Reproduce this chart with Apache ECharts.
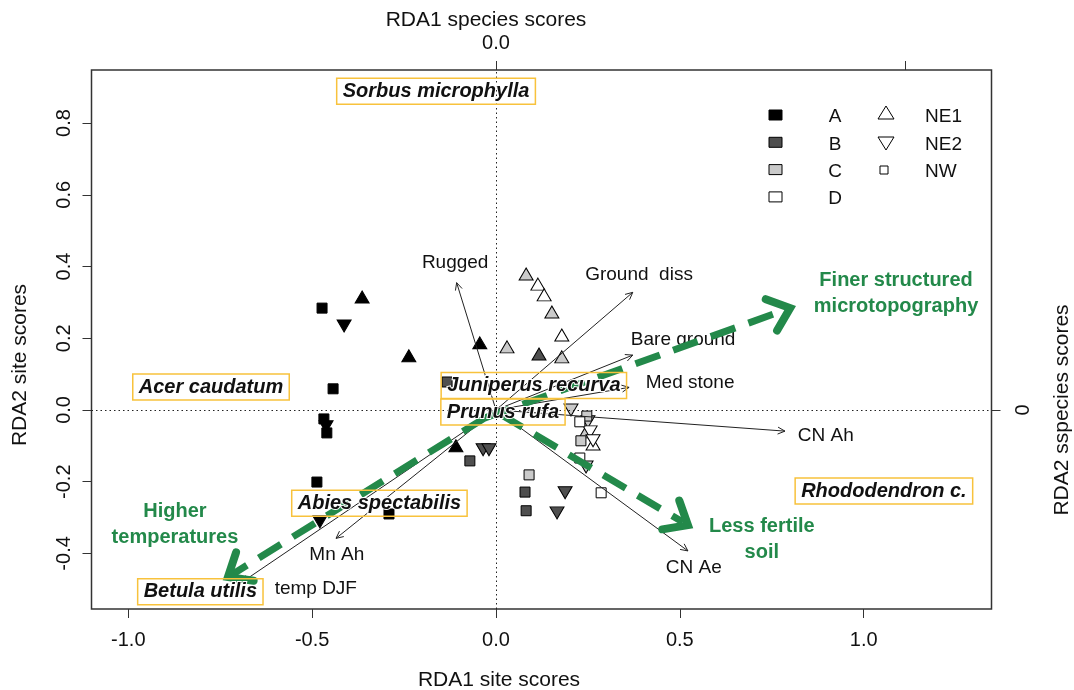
<!DOCTYPE html>
<html>
<head>
<meta charset="UTF-8" />
<title>RDA biplot</title>
<script src="https://cdn.jsdelivr.net/npm/echarts@6/dist/echarts.min.js"></script>
</head>
<body style="margin:0">
<div id="main"></div>
<script>
const width = 1074;
const height = 690;
const main = document.getElementById('main');
main.style.width = `${width}px`;
main.style.height = `${height}px`;

// site scores [RDA1, RDA2], by group (A-D) and aspect (NE1, NE2, NW)
const sitesA_NE1 = [[-0.364, 0.315], [-0.237, 0.151], [-0.044, 0.187], [-0.109, -0.100]];
const sitesA_NE2 = [[-0.413, 0.234], [-0.462, -0.047], [-0.479, -0.312]];
const sitesA_NW = [[-0.473, 0.284], [-0.443, 0.059], [-0.468, -0.025], [-0.460, -0.064], [-0.487, -0.201], [-0.291, -0.290]];
const sitesB_NE1 = [[0.117, 0.156]];
const sitesB_NE2 = [[-0.035, -0.111], [-0.019, -0.111], [0.188, -0.231], [0.166, -0.287]];
const sitesB_NW = [[-0.133, 0.078], [-0.071, -0.142], [0.079, -0.229], [0.082, -0.281]];
const sitesC_NE1 = [[0.082, 0.379], [0.152, 0.273], [0.030, 0.176], [0.179, 0.148], [0.245, -0.061]];
const sitesC_NE2 = [[0.204, 0.000], [0.250, -0.033], [0.245, -0.159]];
const sitesC_NW = [[0.090, -0.181], [0.247, -0.017], [0.231, -0.086]];
const sitesD_NE1 = [[0.114, 0.351], [0.131, 0.321], [0.179, 0.209], [0.264, -0.095]];
const sitesD_NE2 = [[0.256, -0.061], [0.264, -0.086]];
const sitesD_NW = [[0.228, -0.033], [0.228, -0.134], [0.286, -0.231]];

// environmental vectors
const envNames = ['Rugged', 'Ground  diss', 'Bare ground', 'Med stone', 'CN Ah', 'CN Ae', 'Mn Ah', 'temp DJF'];
const envEnds = [[-0.107, 0.355], [0.372, 0.328], [0.372, 0.153], [0.362, 0.063], [0.786, -0.059], [0.522, -0.393], [-0.435, -0.358], [-0.692, -0.481]];
const envLabelPos = [[-0.111, 0.410], [0.389, 0.376], [0.509, 0.195], [0.528, 0.075], [0.897, -0.072], [0.538, -0.440], [-0.433, -0.404], [-0.490, -0.499]];

// species
const speciesNames = ['Sorbus microphylla', 'Acer caudatum', 'Juniperus recurva', 'Prunus rufa', 'Abies spectabilis', 'Betula utilis', 'Rhododendron c.'];
const speciesPos = [[-0.163, 0.889], [-0.775, 0.064], [0.103, 0.068], [0.019, -0.006], [-0.317, -0.260], [-0.804, -0.507], [1.055, -0.226]];

// interpreted gradients
const gradNames = ['Finer structured\nmicrotopography', 'Higher\ntemperatures', 'Less fertile\nsoil'];
const gradArrows = [[-0.030, -0.022, 0.800, 0.284], [-0.030, -0.022, -0.729, -0.466], [0.011, -0.011, 0.522, -0.321]];
const gradLabelPos = [[1.088, 0.325], [-0.873, -0.320], [0.723, -0.360]];

const xTicks = [-1, -0.5, 0, 0.5, 1];
const yTicks = [-0.4, -0.2, 0, 0.2, 0.4, 0.6, 0.8];
const topTicks = [0, 0.5];
const rightTicks = [0];

const legendGroups = ['A', 'B', 'C', 'D'];
const legendAspects = ['NE1', 'NE2', 'NW'];

const font = 'Liberation Sans, Arial, sans-serif';
const fills = { A: '#000000', B: '#4f4f4f', C: '#cacaca', D: '#ffffff' };
const green = '#23894a';

function siteSeries(data, group, aspect) {
  const isSq = aspect === 'NW';
  return {
    type: 'scatter',
    data,
    symbol: isSq ? 'rect' : 'triangle',
    symbolRotate: aspect === 'NE2' ? 180 : 0,
    symbolSize: isSq ? 10 : [14, 12],
    itemStyle: { color: fills[group], borderColor: '#000', borderWidth: 1, opacity: 1 },
    z: 2,
    silent: true
  };
}

function envArrow(params, api) {
  const p0 = api.coord([0, 0]);
  const p1 = api.coord([api.value(0), api.value(1)]);
  const ang = Math.atan2(p1[1] - p0[1], p1[0] - p0[0]);
  const L = 8, a = Math.PI / 7;
  return {
    type: 'group',
    children: [
      { type: 'line', shape: { x1: p0[0], y1: p0[1], x2: p1[0], y2: p1[1] }, style: { stroke: '#222', lineWidth: 1 } },
      {
        type: 'polyline',
        shape: { points: [[p1[0] - L * Math.cos(ang - a), p1[1] - L * Math.sin(ang - a)], p1, [p1[0] - L * Math.cos(ang + a), p1[1] - L * Math.sin(ang + a)]] },
        style: { stroke: '#222', lineWidth: 1, fill: 'none' }
      }
    ]
  };
}

function gradArrow(params, api) {
  const p0 = api.coord([api.value(0), api.value(1)]);
  const p1 = api.coord([api.value(2), api.value(3)]);
  const ang = Math.atan2(p1[1] - p0[1], p1[0] - p0[0]);
  const L = 26, a = Math.PI / 4.5;
  const e = [p1[0] - 6 * Math.cos(ang), p1[1] - 6 * Math.sin(ang)];
  return {
    type: 'group',
    children: [
      { type: 'line', shape: { x1: p0[0], y1: p0[1], x2: e[0], y2: e[1] }, style: { stroke: green, lineWidth: 7, lineDash: [26, 14] } },
      {
        type: 'polyline',
        shape: { points: [[p1[0] - L * Math.cos(ang - a), p1[1] - L * Math.sin(ang - a)], p1, [p1[0] - L * Math.cos(ang + a), p1[1] - L * Math.sin(ang + a)]] },
        style: { stroke: green, lineWidth: 8, fill: 'none', lineJoin: 'miter', lineCap: 'round' }
      }
    ]
  };
}

function labelSeries(names, pos, label, z) {
  return {
    type: 'scatter',
    data: pos.map((p, i) => ({ value: p, name: names[i] })),
    symbolSize: 1,
    itemStyle: { color: 'rgba(0,0,0,0)', opacity: 1 },
    label: Object.assign({ show: true, position: 'inside', formatter: '{b}', fontFamily: font }, label),
    z,
    silent: true
  };
}

const graphics = [];
legendGroups.forEach((g, i) => {
  graphics.push({ type: 'rect', shape: { x: 769, y: 110 + i * 27.3, width: 13, height: 10 }, style: { fill: fills[g], stroke: '#000', lineWidth: 1 } });
  graphics.push({ type: 'text', style: { x: 835, y: 117 + i * 27.3, text: g, font: `19px ${font}`, fill: '#111', align: 'center', verticalAlign: 'middle' } });
});
graphics.push({ type: 'polygon', shape: { points: [[886, 106], [878, 119], [894, 119]] }, style: { fill: '#fff', stroke: '#000', lineWidth: 1 } });
graphics.push({ type: 'polygon', shape: { points: [[878, 137], [894, 137], [886, 150]] }, style: { fill: '#fff', stroke: '#000', lineWidth: 1 } });
graphics.push({ type: 'rect', shape: { x: 880, y: 166, width: 8, height: 8 }, style: { fill: '#fff', stroke: '#000', lineWidth: 1 } });
legendAspects.forEach((t, i) => {
  graphics.push({ type: 'text', style: { x: 925, y: 117 + i * 27.3, text: t, font: `19px ${font}`, fill: '#111', align: 'left', verticalAlign: 'middle' } });
});

// axis titles
const titleFont = `21px ${font}`;
graphics.push({ type: 'text', x: 499, y: 680, style: { text: 'RDA1 site scores', font: titleFont, fill: '#111', align: 'center', verticalAlign: 'middle' } });
graphics.push({ type: 'text', x: 486, y: 20, style: { text: 'RDA1 species scores', font: titleFont, fill: '#111', align: 'center', verticalAlign: 'middle' } });
graphics.push({ type: 'text', x: 20, y: 365, rotation: Math.PI / 2, style: { text: 'RDA2 site scores', font: titleFont, fill: '#111', align: 'center', verticalAlign: 'middle' } });
graphics.push({ type: 'text', x: 1062, y: 410, rotation: Math.PI / 2, style: { text: 'RDA2 sspecies scores', font: titleFont, fill: '#111', align: 'center', verticalAlign: 'middle' } });

const axisText = { fontFamily: font, fontSize: 20, color: '#111' };
const tickStyle = { show: true, length: 9, lineStyle: { color: '#333', width: 1 } };
const hiddenLine = { show: false, onZero: false };

const myChart = echarts.init(main);
const option = {
  animation: false,
  backgroundColor: '#fff',
  grid: { left: 91.5, right: 82.5, top: 70, bottom: 81, show: true, borderColor: '#333', borderWidth: 1.5, outerBoundsMode: 'none', containLabel: false },
  xAxis: [
    {
      type: 'value', position: 'bottom', min: -1.1, max: 1.3476,
      axisLine: hiddenLine, splitLine: { show: false },
      axisTick: Object.assign({ customValues: xTicks }, tickStyle),
      axisLabel: Object.assign({ customValues: xTicks, margin: 21, formatter: v => v.toFixed(1) }, axisText)
    },
    {
      type: 'value', position: 'top', min: -0.4945, max: 0.6057,
      axisLine: hiddenLine, splitLine: { show: false },
      axisTick: Object.assign({ customValues: topTicks }, tickStyle),
      axisLabel: Object.assign({ customValues: [0], margin: 17, formatter: v => v.toFixed(1) }, axisText)
    }
  ],
  yAxis: [
    {
      type: 'value', position: 'left', min: -0.555, max: 0.948,
      axisLine: hiddenLine, splitLine: { show: false },
      axisTick: Object.assign({ customValues: yTicks }, tickStyle),
      axisLabel: Object.assign({ customValues: yTicks, rotate: 90, margin: 17, formatter: v => v.toFixed(1) }, axisText)
    },
    {
      type: 'value', position: 'right', min: -0.555, max: 0.948,
      axisLine: hiddenLine, splitLine: { show: false },
      axisTick: Object.assign({ customValues: rightTicks }, tickStyle),
      axisLabel: Object.assign({ customValues: rightTicks, rotate: 90, margin: 22, formatter: v => String(v) }, axisText)
    }
  ],
  graphic: graphics,
  series: [
    {
      type: 'scatter', data: [], silent: true,
      markLine: {
        silent: true, symbol: ['none', 'none'], label: { show: false },
        lineStyle: { type: [1.5, 3], color: '#222', width: 1 },
        data: [{ xAxis: 0 }, { yAxis: 0 }]
      }
    },
    siteSeries(sitesA_NE1, 'A', 'NE1'), siteSeries(sitesA_NE2, 'A', 'NE2'), siteSeries(sitesA_NW, 'A', 'NW'),
    siteSeries(sitesB_NE1, 'B', 'NE1'), siteSeries(sitesB_NE2, 'B', 'NE2'), siteSeries(sitesB_NW, 'B', 'NW'),
    siteSeries(sitesC_NE1, 'C', 'NE1'), siteSeries(sitesC_NE2, 'C', 'NE2'), siteSeries(sitesC_NW, 'C', 'NW'),
    siteSeries(sitesD_NE1, 'D', 'NE1'), siteSeries(sitesD_NE2, 'D', 'NE2'), siteSeries(sitesD_NW, 'D', 'NW'),
    { type: 'custom', renderItem: envArrow, data: envEnds, encode: { x: 0, y: 1 }, z: 3, silent: true },
    labelSeries(envNames, envLabelPos, { fontSize: 19, color: '#111' }, 3),
    { type: 'custom', renderItem: gradArrow, data: gradArrows, encode: { x: [0, 2], y: [1, 3] }, z: 4, silent: true },
    labelSeries(gradNames, gradLabelPos, { fontSize: 20, fontWeight: 'bold', color: green, lineHeight: 26, align: 'center' }, 4),
    labelSeries(speciesNames, speciesPos, {
      fontSize: 20, fontWeight: 'bold', fontStyle: 'italic', color: '#111',
      textBorderColor: '#fff', textBorderWidth: 2,
      borderColor: '#f8c23c', borderWidth: 1.5, padding: [4, 6, 2, 6]
    }, 5)
  ]
};
myChart.setOption(option);
</script>
</body>
</html>
